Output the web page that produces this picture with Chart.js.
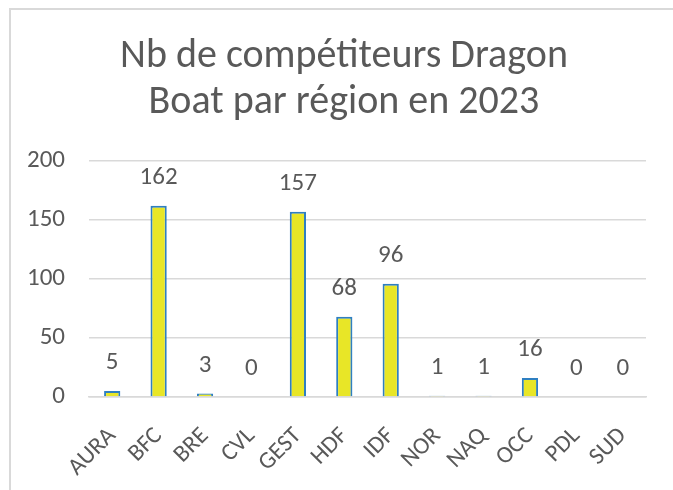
<!DOCTYPE html>
<html>
<head>
<meta charset="utf-8">
<script src="https://cdn.jsdelivr.net/npm/chart.js@4"></script>
<style>
  html, body { margin: 0; padding: 0; background: #fff; }
  #wrap { position: relative; width: 673px; height: 490px; overflow: hidden; }
  #frame { position: absolute; left: 9px; top: 8px; width: 700px; height: 520px;
           border: 2px solid #d9d9d9; box-sizing: border-box; }
  #myChart { position: absolute; left: 0; top: 0; }
</style>
</head>
<body>
<div id="wrap">
  <div id="frame"></div>
  <canvas id="myChart" width="673" height="490"></canvas>
</div>
<script>
var regions = ['AURA', 'BFC', 'BRE', 'CVL', 'GEST', 'HDF', 'IDF', 'NOR', 'NAQ', 'OCC', 'PDL', 'SUD'];
var competitors = [5, 162, 3, 0, 157, 68, 96, 1, 1, 16, 0, 0];
var yTicks = [0, 50, 100, 150, 200];
var titleLines = ['Nb de compétiteurs Dragon', 'Boat par région en 2023'];

var fontFamily = 'Carlito, Calibri, "Liberation Sans Narrow", "Liberation Sans", sans-serif';
var textGrey = '#595959';

// two-line title, centred on the frame rather than on the chart box
var frameTitle = {
    id: 'frameTitle',
    afterDraw: function(chart) {
        var ctx = chart.ctx;
        ctx.save();
        ctx.font = '40px ' + fontFamily;
        ctx.fillStyle = textGrey;
        ctx.textAlign = 'center';
        ctx.textBaseline = 'middle';
        titleLines.forEach(function(line, i) {
            ctx.fillText(line, 344, 57 + i * 46);
        });
        ctx.restore();
    }
};

// value written above each bar
var barValues = {
    id: 'barValues',
    afterDatasetsDraw: function(chart) {
        var ctx = chart.ctx;
        var meta = chart.getDatasetMeta(0);
        ctx.save();
        ctx.font = '25px ' + fontFamily;
        ctx.fillStyle = textGrey;
        ctx.textAlign = 'center';
        ctx.textBaseline = 'middle';
        meta.data.forEach(function(bar, i) {
            ctx.fillText(String(competitors[i]), bar.x, bar.y - 28);
        });
        ctx.restore();
    }
};

document.addEventListener('DOMContentLoaded', function() {
    var ctx = document.getElementById('myChart').getContext('2d');

    var myChart = new Chart(ctx, {
        type: 'bar',
        data: {
            labels: regions,
            datasets: [{
                label: 'Compétiteurs',
                data: competitors,
                backgroundColor: '#e8e627',
                borderColor: '#2f7fc1',
                borderWidth: 2,
                categoryPercentage: 1,
                barPercentage: 0.35
            }]
        },
        options: {
            responsive: false,
            animation: false,
            layout: { padding: { left: 0, right: 27, top: 161, bottom: 0 } },
            plugins: {
                legend: { display: false },
                tooltip: { enabled: false },
                title: { display: false }
            },
            scales: {
                x: {
                    grid: { display: false },
                    border: { color: '#d9d9d9', width: 1.5 },
                    ticks: {
                        color: textGrey,
                        font: { family: fontFamily, size: 24 },
                        minRotation: 45,
                        maxRotation: 45,
                        autoSkip: false,
                        padding: 17
                    },
                    afterFit: function(scale) { scale.height = 93; }
                },
                y: {
                    min: 0,
                    max: 200,
                    afterBuildTicks: function(scale) {
                        scale.ticks = yTicks.map(function(v) { return { value: v }; });
                    },
                    grid: { color: '#d9d9d9', lineWidth: 1.5, drawTicks: false },
                    border: { display: false },
                    ticks: {
                        color: textGrey,
                        font: { family: fontFamily, size: 25 },
                        padding: 24
                    },
                    afterFit: function(scale) { scale.width = 89; }
                }
            }
        },
        plugins: [barValues, frameTitle]
    });
});
</script>
</body>
</html>
